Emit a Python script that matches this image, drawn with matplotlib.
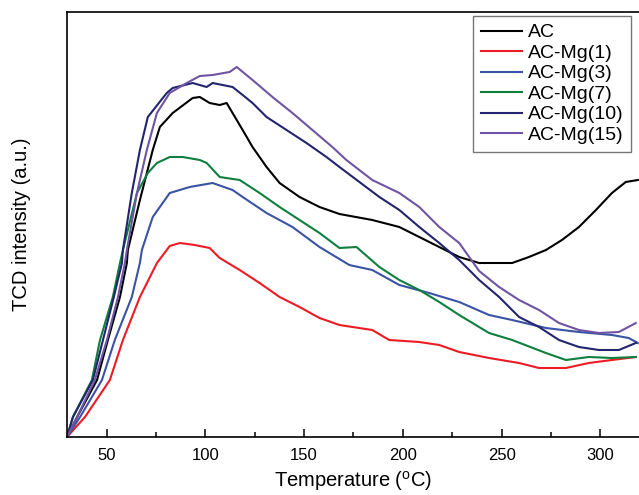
import matplotlib
matplotlib.use("Agg")
import matplotlib.pyplot as plt
from matplotlib.ticker import MultipleLocator, NullLocator

plt.rcParams['font.family'] = ['Liberation Sans', 'DejaVu Sans']
plt.rcParams['mathtext.fontset'] = 'custom'
plt.rcParams['mathtext.rm'] = 'Liberation Sans'

labels = ["AC", "AC-Mg(1)", "AC-Mg(3)", "AC-Mg(7)", "AC-Mg(10)", "AC-Mg(15)"]
colors = ["#000000", "#ED1C24", "#3A53A4", "#0E7F3E", "#23246E", "#6E54A3"]

t_ac = [30, 35.1, 45.2, 50.7, 56.8, 60.3, 60.8, 66.9, 73.4, 77.0, 83.5, 93.6, 97.2, 102.2, 107.3, 110.8,
        113.8, 118.9, 123.9, 131.0, 137.6, 147.7, 157.8, 167.9, 184.5, 198.2, 208.3, 218.4, 228.5, 238.6,
        255.3, 263.8, 272.4, 280.5, 289.1, 297.7, 305.8, 312.8, 318.9]
v_ac = [0, 20, 57, 97, 140, 174, 187, 237, 287, 310, 324, 339, 340, 334, 332, 334,
        324, 307, 290, 270, 254, 240, 230, 223, 217, 210, 200, 190, 180, 174,
        174, 180, 187, 197, 210, 227, 244, 255, 257]

t_mg1 = [30, 39.1, 51.7, 58.3, 66.9, 75.5, 82.0, 87.1, 94.6, 102.2, 107.3, 117.4, 127.5, 137.6, 147.7,
         157.8, 167.9, 184.5, 193.1, 208.3, 218.4, 228.5, 243.6, 258.8, 268.9, 282.5, 294.1, 305.8, 317.9]
v_mg1 = [0, 20, 57, 97, 140, 174, 191, 194, 192, 189, 179, 167, 154, 140, 130,
         119, 112, 107, 97, 95, 92, 85, 79, 74, 69, 69, 74, 77, 80]

t_mg3 = [30, 36.6, 47.7, 54.2, 62.8, 66.9, 67.9, 73.4, 82.0, 92.1, 103.7, 113.8, 118.9, 131.0, 144.1,
         157.8, 172.9, 184.5, 198.2, 213.3, 228.5, 243.6, 255.3, 272.4, 289.1, 305.8, 314.3, 318.9]
v_mg3 = [0, 20, 57, 97, 140, 174, 187, 220, 244, 250, 254, 247, 240, 224, 210,
         190, 172, 167, 152, 144, 135, 122, 117, 109, 105, 102, 99, 94]

t_mg7 = [30, 33.0, 42.6, 46.7, 53.2, 56.8, 58.3, 65.4, 70.9, 75.5, 82.0, 88.6, 97.2, 100.7, 107.3, 117.4,
         127.5, 137.6, 147.7, 157.8, 167.9, 176.5, 188.1, 198.2, 208.3, 218.4, 228.5, 243.6, 255.3, 272.4,
         282.5, 294.1, 305.8, 317.9]
v_mg7 = [0, 20, 57, 97, 140, 174, 187, 244, 264, 274, 280, 280, 277, 274, 260, 257,
         244, 230, 217, 204, 189, 190, 170, 157, 147, 135, 122, 104, 97, 84,
         77, 80, 79, 80]

t_mg10 = [30, 33.0, 43.1, 48.2, 53.7, 57.8, 58.3, 62.8, 66.9, 70.9, 80.5, 83.5, 93.6, 100.7, 103.7, 113.8,
          118.9, 123.9, 131.0, 141.1, 151.2, 161.3, 167.9, 178.0, 188.1, 198.2, 208.3, 218.4, 228.5, 238.6,
          248.7, 258.8, 268.9, 279.0, 289.1, 299.2, 309.3, 317.9]
v_mg10 = [0, 20, 57, 97, 140, 174, 187, 244, 287, 320, 344, 349, 354, 350, 354, 350,
          342, 334, 320, 307, 294, 280, 270, 255, 240, 227, 210, 194, 177, 157,
          140, 120, 110, 97, 90, 87, 87, 94]

t_mg15 = [30, 35.1, 44.1, 50.2, 55.8, 59.3, 60.3, 65.4, 70.4, 75.5, 82.0, 90.6, 97.2, 103.7, 112.3, 115.9,
          123.9, 134.0, 144.1, 154.2, 164.3, 171.4, 184.5, 198.2, 208.3, 218.4, 228.5, 238.6, 248.7, 258.8,
          268.9, 279.0, 289.1, 299.2, 309.3, 317.9]
v_mg15 = [0, 20, 57, 97, 140, 174, 187, 244, 287, 324, 344, 354, 361, 362, 365, 370,
          357, 340, 324, 307, 290, 277, 257, 244, 230, 210, 194, 166, 150, 137,
          127, 114, 107, 104, 105, 114]

series_t = [t_ac, t_mg1, t_mg3, t_mg7, t_mg10, t_mg15]
series_v = [v_ac, v_mg1, v_mg3, v_mg7, v_mg10, v_mg15]

fig = plt.figure(figsize=(6.39, 4.95), dpi=100)
ax = fig.add_axes([67/639, 58/495, 1 - 67/639, 425/495])

for t, v, c, lab in zip(series_t, series_v, colors, labels):
    ax.plot(t, v, color=c, lw=1.5, label=lab)

ax.set_xlim(30, 319.5)
ax.set_ylim(0, 425)
ax.xaxis.set_major_locator(MultipleLocator(50))
ax.xaxis.set_minor_locator(MultipleLocator(25))
ax.yaxis.set_major_locator(NullLocator())
ax.tick_params(axis='x', which='major', direction='in', length=6, width=1.1, labelsize=12, pad=8)
ax.tick_params(axis='x', which='minor', direction='in', length=3.5, width=1.1)
ax.tick_params(top=False, right=False)
ax.spines['right'].set_visible(False)
for s in ['left', 'bottom', 'top']:
    ax.spines[s].set_linewidth(1.2)

ax.set_xlabel(r'Temperature ($^{\rm o}$C)', fontsize=14.5, labelpad=4.5)
ax.set_ylabel('TCD intensity (a.u.)', fontsize=14.5, labelpad=26)

leg = ax.legend(loc='upper right', bbox_to_anchor=(0.986, 0.9906), fontsize=14,
                frameon=True, fancybox=False, edgecolor='#555555', handlelength=2.1,
                handletextpad=0.3, labelspacing=0.15, borderpad=0.4, borderaxespad=0)
leg.get_frame().set_linewidth(1.0)

fig.savefig('out.png', dpi=100)
